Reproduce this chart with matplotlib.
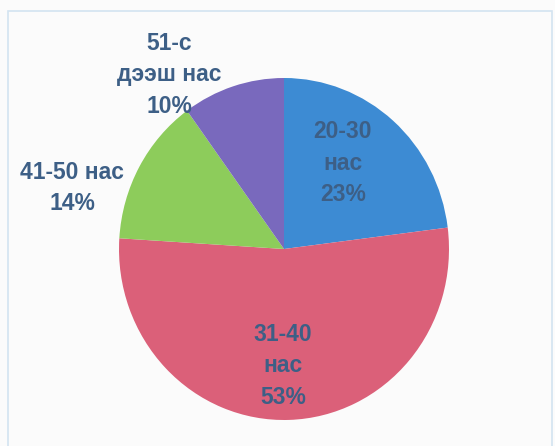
"""Age distribution pie chart (Mongolian labels)."""

import matplotlib

matplotlib.use("Agg")
import matplotlib.pyplot as plt
from matplotlib.patches import Rectangle

# Slices, clockwise from 12 o'clock
categories = ["20-30\nнас", "31-40\nнас", "41-50 нас", "51-с\nдээш нас"]
shares = [23, 53, 14, 10]
colors = ["#3d8bd3", "#db6079", "#8dcc5b", "#7969bd"]

# Label anchor points in image pixels (x, y from top)
label_pos = [(343, 163), (283, 366), (72, 188), (169, 75)]

W, H = 555, 446
cx, cy = 284, 249          # pie centre (px)
rx, ry = 165, 171          # scanned pie is slightly taller than wide

fig = plt.figure(figsize=(W / 100, H / 100), dpi=100)
fig.patch.set_facecolor("#fbfbfb")
ax = fig.add_axes([0, 0, 1, 1])

ax.pie(shares, colors=colors, startangle=90, counterclock=False,
       radius=1, wedgeprops=dict(linewidth=0))
ax.set_aspect("auto")
ax.set_xlim(-cx / rx, (W - cx) / rx)
ax.set_ylim(-(H - cy) / ry, cy / ry)
ax.axis("off")

# light frame of the original chart area
fig.add_artist(Rectangle((8 / W, -0.05), (W - 11) / W, 1 - 11 / H + 0.05,
                         transform=fig.transFigure, fill=False,
                         edgecolor="#d3e4f1", linewidth=1.2))

for (lx, ly), cat, pct in zip(label_pos, categories, shares):
    fig.text(lx / W, 1 - ly / H, f"{cat}\n{pct}%", ha="center", va="center",
             fontsize=16.5, fontweight="bold", family="Liberation Sans",
             color="#3d5f86", linespacing=1.45)

fig.savefig("out.png", dpi=100, facecolor=fig.get_facecolor())
plt.close(fig)
